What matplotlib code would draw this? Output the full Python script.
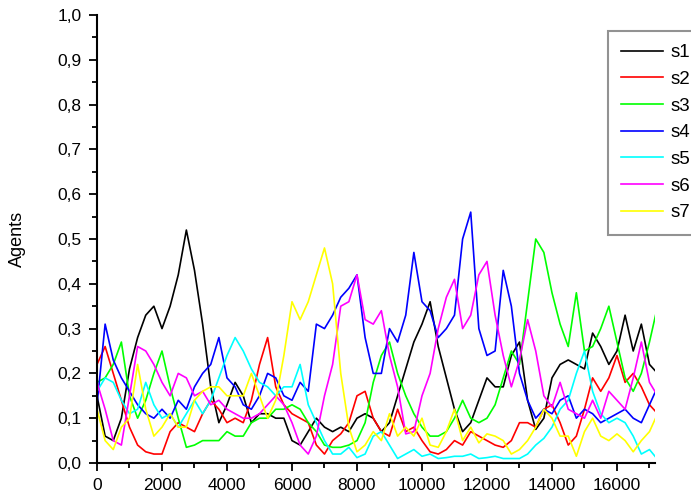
import numpy as np
import matplotlib
matplotlib.use("Agg")
import matplotlib.pyplot as plt
from matplotlib.ticker import MultipleLocator, FuncFormatter

# steps, sampled every 250
steps = np.arange(0, 17251, 250)

s1 = [0.15, 0.06, 0.05, 0.10, 0.21, 0.28, 0.33, 0.35, 0.30, 0.35, 0.42, 0.52,
      0.43, 0.31, 0.17, 0.09, 0.13, 0.18, 0.15, 0.09, 0.11, 0.11, 0.10, 0.10,
      0.05, 0.04, 0.07, 0.10, 0.08, 0.07, 0.08, 0.07, 0.10, 0.11, 0.10, 0.07,
      0.09, 0.15, 0.21, 0.27, 0.31, 0.36, 0.26, 0.19, 0.12, 0.07, 0.09, 0.14,
      0.19, 0.17, 0.17, 0.24, 0.27, 0.14, 0.075, 0.10, 0.19, 0.22, 0.23, 0.22,
      0.21, 0.29, 0.26, 0.22, 0.25, 0.33, 0.25, 0.31, 0.22, 0.20]
s2 = [0.22, 0.26, 0.20, 0.14, 0.08, 0.04, 0.025, 0.02, 0.02, 0.07, 0.09, 0.08,
      0.07, 0.11, 0.14, 0.12, 0.09, 0.10, 0.09, 0.14, 0.22, 0.28, 0.17, 0.13,
      0.11, 0.10, 0.09, 0.04, 0.02, 0.05, 0.065, 0.09, 0.15, 0.16, 0.10, 0.07,
      0.06, 0.12, 0.07, 0.08, 0.05, 0.025, 0.02, 0.03, 0.05, 0.04, 0.07, 0.06,
      0.05, 0.04, 0.035, 0.05, 0.09, 0.09, 0.08, 0.12, 0.13, 0.09, 0.04, 0.06,
      0.12, 0.19, 0.16, 0.19, 0.24, 0.18, 0.20, 0.17, 0.13, 0.11]
s3 = [0.18, 0.19, 0.22, 0.27, 0.15, 0.10, 0.14, 0.20, 0.25, 0.17, 0.10, 0.035,
      0.04, 0.05, 0.05, 0.05, 0.07, 0.06, 0.06, 0.09, 0.10, 0.10, 0.12, 0.12,
      0.13, 0.12, 0.09, 0.07, 0.04, 0.035, 0.035, 0.04, 0.05, 0.09, 0.18, 0.24,
      0.27, 0.20, 0.15, 0.11, 0.08, 0.06, 0.06, 0.07, 0.10, 0.14, 0.10, 0.09,
      0.10, 0.13, 0.19, 0.25, 0.22, 0.36, 0.50, 0.47, 0.38, 0.31, 0.26, 0.38,
      0.25, 0.26, 0.30, 0.35, 0.27, 0.19, 0.16, 0.20, 0.27, 0.35]
s4 = [0.13, 0.31, 0.23, 0.19, 0.16, 0.13, 0.11, 0.10, 0.12, 0.10, 0.14, 0.12,
      0.17, 0.20, 0.22, 0.28, 0.19, 0.17, 0.13, 0.12, 0.15, 0.20, 0.19, 0.15,
      0.14, 0.18, 0.16, 0.31, 0.30, 0.33, 0.37, 0.39, 0.42, 0.28, 0.20, 0.20,
      0.30, 0.27, 0.33, 0.47, 0.36, 0.34, 0.28, 0.30, 0.33, 0.50, 0.56, 0.30,
      0.24, 0.25, 0.43, 0.35, 0.20, 0.14, 0.10, 0.12, 0.11, 0.14, 0.15, 0.10,
      0.12, 0.11, 0.09, 0.10, 0.11, 0.12, 0.10, 0.09, 0.13, 0.17]
s5 = [0.16, 0.19, 0.18, 0.14, 0.11, 0.12, 0.18, 0.13, 0.10, 0.11, 0.08, 0.11,
      0.14, 0.11, 0.14, 0.19, 0.24, 0.28, 0.25, 0.21, 0.18, 0.17, 0.15, 0.17,
      0.17, 0.22, 0.13, 0.09, 0.05, 0.02, 0.02, 0.035, 0.012, 0.02, 0.06, 0.07,
      0.04, 0.01, 0.02, 0.03, 0.015, 0.02, 0.01, 0.012, 0.015, 0.015, 0.02, 0.01,
      0.012, 0.015, 0.01, 0.01, 0.01, 0.02, 0.04, 0.055, 0.08, 0.12, 0.14, 0.20,
      0.25, 0.16, 0.11, 0.09, 0.10, 0.09, 0.06, 0.02, 0.03, 0.008]
s6 = [0.18, 0.12, 0.05, 0.04, 0.15, 0.26, 0.25, 0.22, 0.18, 0.15, 0.20, 0.19,
      0.15, 0.16, 0.13, 0.14, 0.12, 0.11, 0.10, 0.10, 0.11, 0.13, 0.15, 0.13,
      0.09, 0.04, 0.02, 0.06, 0.15, 0.22, 0.35, 0.36, 0.42, 0.32, 0.31, 0.34,
      0.24, 0.17, 0.065, 0.07, 0.15, 0.20, 0.30, 0.37, 0.41, 0.30, 0.33, 0.42,
      0.45, 0.33, 0.24, 0.17, 0.23, 0.32, 0.25, 0.15, 0.125, 0.18, 0.12, 0.11,
      0.10, 0.14, 0.10, 0.16, 0.14, 0.12, 0.19, 0.27, 0.18, 0.15]
s7 = [0.12, 0.05, 0.03, 0.08, 0.10, 0.22, 0.12, 0.06, 0.08, 0.11, 0.08, 0.08,
      0.14, 0.16, 0.17, 0.17, 0.15, 0.15, 0.15, 0.20, 0.15, 0.10, 0.14, 0.24,
      0.36, 0.32, 0.36, 0.42, 0.48, 0.40, 0.20, 0.08, 0.025, 0.04, 0.07, 0.05,
      0.11, 0.06, 0.08, 0.06, 0.10, 0.04, 0.035, 0.07, 0.12, 0.05, 0.08, 0.045,
      0.065, 0.06, 0.05, 0.02, 0.03, 0.05, 0.08, 0.12, 0.10, 0.06, 0.06, 0.015,
      0.07, 0.10, 0.06, 0.05, 0.065, 0.05, 0.025, 0.05, 0.07, 0.11]

series = [s1, s2, s3, s4, s5, s6, s7]
names = ["s1", "s2", "s3", "s4", "s5", "s6", "s7"]
colors = ["#000000", "#ff0000", "#00ff00", "#0000ff", "#00ffff", "#ff00ff", "#ffff00"]

plt.rcParams['font.family'] = ['Liberation Sans', 'DejaVu Sans']

fig = plt.figure(figsize=(6.91, 4.97), dpi=100)
ax = fig.add_axes([97 / 691, 1 - 463 / 497, 558 / 691, 448 / 497])

for ys, nm, c in zip(series, names, colors):
    ax.plot(steps, ys, color=c, linewidth=1.2, label=nm)

ax.set_xlim(0, 17170)
ax.set_ylim(0, 1.0)

ax.xaxis.set_major_locator(MultipleLocator(2000))
ax.xaxis.set_minor_locator(MultipleLocator(1000))
ax.yaxis.set_major_locator(MultipleLocator(0.1))
ax.yaxis.set_minor_locator(MultipleLocator(0.05))
ax.yaxis.set_major_formatter(FuncFormatter(lambda v, p: f"{v:.1f}".replace(".", ",")))

for side in ["top", "right"]:
    ax.spines[side].set_visible(False)
for side in ["left", "bottom"]:
    ax.spines[side].set_linewidth(1.5)

ax.tick_params(which="major", direction="out", length=6, width=1.3,
               labelsize=12.5, pad=5)
ax.tick_params(which="minor", direction="out", length=3.5, width=1.3)

ax.set_ylabel("Agents", fontsize=13)
ax.yaxis.set_label_coords(-71 / 558, 0.5)

leg = ax.legend(loc="upper left", bbox_to_anchor=(608 / 691, 1 - 31 / 497),
                bbox_transform=fig.transFigure, fontsize=13.5, frameon=True,
                fancybox=False, borderaxespad=0, borderpad=0.7,
                labelspacing=0.51, handlelength=2.25, handletextpad=0.4)
leg.get_frame().set_edgecolor("#777777")
leg.get_frame().set_linewidth(1.5)
for ln in leg.get_lines():
    ln.set_linewidth(1.2)

fig.savefig("out.png", dpi=100)
